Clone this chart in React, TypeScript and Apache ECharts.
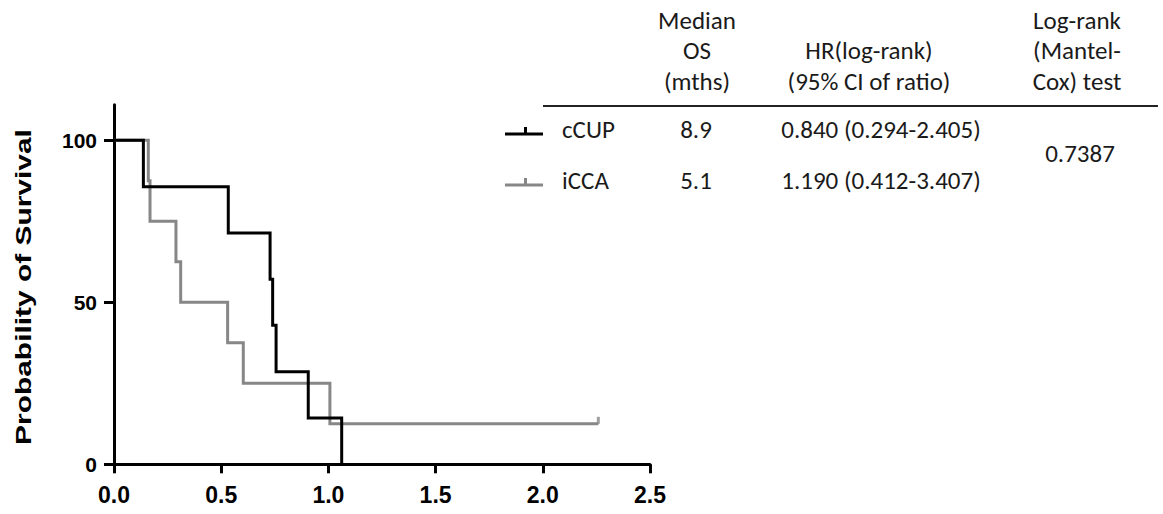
import React, { useEffect, useRef } from "react";
import * as echarts from "echarts";

// ---- data ----
const seriesNames = ["cCUP", "iCCA"];
const cCUPTimes = [0, 0.137, 0.533, 0.728, 0.74, 0.756, 0.906, 1.062];
const cCUPSurvival = [100, 85.7, 71.4, 57.1, 42.9, 28.6, 14.3, 0];
const iCCATimes = [0, 0.16, 0.168, 0.289, 0.311, 0.53, 0.603, 1.007, 2.259];
const iCCASurvival = [100, 87.5, 75, 62.5, 50, 37.5, 25, 12.5, 12.5];
const iCCACensorTimes = [2.259];
const iCCACensorSurvival = [12.5];

const xTicks = [0, 0.5, 1, 1.5, 2, 2.5];
const yTicks = [0, 50, 100];
const yAxisTitle = "Probability of Survival";

const headerMedian = ["Median", "OS", "(mths)"];
const headerHR = ["HR(log-rank)", "(95% CI of ratio)"];
const headerLogRank = ["Log-rank", "(Mantel-", "Cox) test"];
const medianOS = ["8.9", "5.1"];
const hrCI = ["0.840 (0.294-2.405)", "1.190 (0.412-3.407)"];
const logRankP = "0.7387";

const BLACK = "#000000";
const GRAY = "#878787";
const TXT = "#1a1a1a";
const TABLE_FONT = '25px Carlito, Lato, "Open Sans", sans-serif';
const AXIS_FONT = '"Liberation Sans", Arial, sans-serif';

const zip = (xs: number[], ys: number[]) => xs.map((x, i) => [x, ys[i]]);

export default function App() {
  const ref = useRef<HTMLDivElement>(null);

  useEffect(() => {
    if (!ref.current) return;
    const chart = echarts.init(ref.current, null, { renderer: "svg" });

    const headerLineY = [20, 50.5, 81];
    const rowY = [129, 180];
    const colMedian = 697;
    const colHRHead = 869;
    const colHRVal = 881;
    const colLR = 1077;

    const txt = (text: string, x: number, y: number, align = "center") => ({
      type: "text",
      x,
      y,
      silent: true,
      style: {
        text,
        font: TABLE_FONT,
        fill: TXT,
        textAlign: align,
        textVerticalAlign: "middle",
      },
    });

    const graphics: any[] = [];
    headerMedian.forEach((t, i) => graphics.push(txt(t, colMedian, headerLineY[i])));
    headerHR.forEach((t, i) => graphics.push(txt(t, colHRHead, headerLineY[i + 1])));
    headerLogRank.forEach((t, i) => graphics.push(txt(t, colLR, headerLineY[i])));
    graphics.push({
      type: "line",
      silent: true,
      shape: { x1: 543, y1: 106, x2: 1158, y2: 106 },
      style: { stroke: "#222", lineWidth: 2 },
    });
    const legendColors = [BLACK, GRAY];
    seriesNames.forEach((name, i) => {
      const y = rowY[i];
      graphics.push({
        type: "rect",
        silent: true,
        shape: { x: 505, y: y + 3.5, width: 38, height: 3 },
        style: { fill: legendColors[i] },
      });
      graphics.push({
        type: "rect",
        silent: true,
        shape: { x: 524, y: y - 2, width: 3, height: 6 },
        style: { fill: legendColors[i] },
      });
      graphics.push(txt(name, 562, y, "left"));
      graphics.push(txt(medianOS[i], colMedian - 1, y));
      graphics.push(txt(hrCI[i], colHRVal, y));
    });
    graphics.push(txt(logRankP, colLR + 3, 153.5));
    graphics.push({
      type: "text",
      x: 23,
      y: 287,
      rotation: Math.PI / 2,
      scaleX: 1.36,
      silent: true,
      style: {
        text: yAxisTitle,
        font: `bold 22px ${AXIS_FONT}`,
        fill: BLACK,
        textAlign: "center",
        textVerticalAlign: "middle",
      },
    });

    chart.setOption({
      animation: false,
      backgroundColor: "#ffffff",
      grid: { left: 114, right: 513, top: 104.7, bottom: 49.7, containLabel: false },
      xAxis: {
        type: "value",
        min: 0,
        max: 2.5,
        interval: 0.5,
        splitLine: { show: false },
        axisLine: { show: true, onZero: false, lineStyle: { color: BLACK, width: 3 } },
        axisTick: { show: true, length: 9, lineStyle: { color: BLACK, width: 3 }, customValues: xTicks },
        axisLabel: {
          customValues: xTicks,
          formatter: (v: number) => v.toFixed(1),
          color: BLACK,
          fontFamily: AXIS_FONT,
          fontWeight: "bold",
          fontSize: 23,
          margin: 19,
        },
      },
      yAxis: {
        type: "value",
        min: 0,
        max: 111,
        splitLine: { show: false },
        axisLine: { show: true, onZero: false, lineStyle: { color: BLACK, width: 3 } },
        axisTick: { show: true, length: 10, lineStyle: { color: BLACK, width: 3 }, customValues: yTicks },
        axisLabel: {
          customValues: yTicks,
          formatter: (v: number) => String(v),
          color: BLACK,
          fontFamily: AXIS_FONT,
          fontWeight: "bold",
          fontSize: 21,
          margin: 17,
        },
      },
      graphic: graphics,
      series: [
        {
          name: seriesNames[1],
          type: "line",
          step: "end",
          showSymbol: false,
          data: zip(iCCATimes, iCCASurvival),
          lineStyle: { color: GRAY, width: 3, join: "miter" },
          itemStyle: { color: GRAY },
          z: 2,
        },
        {
          name: seriesNames[1] + " censored",
          type: "scatter",
          symbol: "rect",
          symbolSize: [3, 7],
          symbolOffset: [0, -3.5],
          data: zip(iCCACensorTimes, iCCACensorSurvival),
          itemStyle: { color: GRAY },
          z: 2,
        },
        {
          name: seriesNames[0],
          type: "line",
          step: "end",
          showSymbol: false,
          data: zip(cCUPTimes, cCUPSurvival),
          lineStyle: { color: BLACK, width: 3, join: "miter" },
          itemStyle: { color: BLACK },
          z: 3,
        },
      ],
    });

    return () => chart.dispose();
  }, []);

  return (
    <div
      ref={ref}
      style={{ position: "fixed", left: 0, top: 0, width: 1163, height: 514, background: "#fff" }}
    />
  );
}
